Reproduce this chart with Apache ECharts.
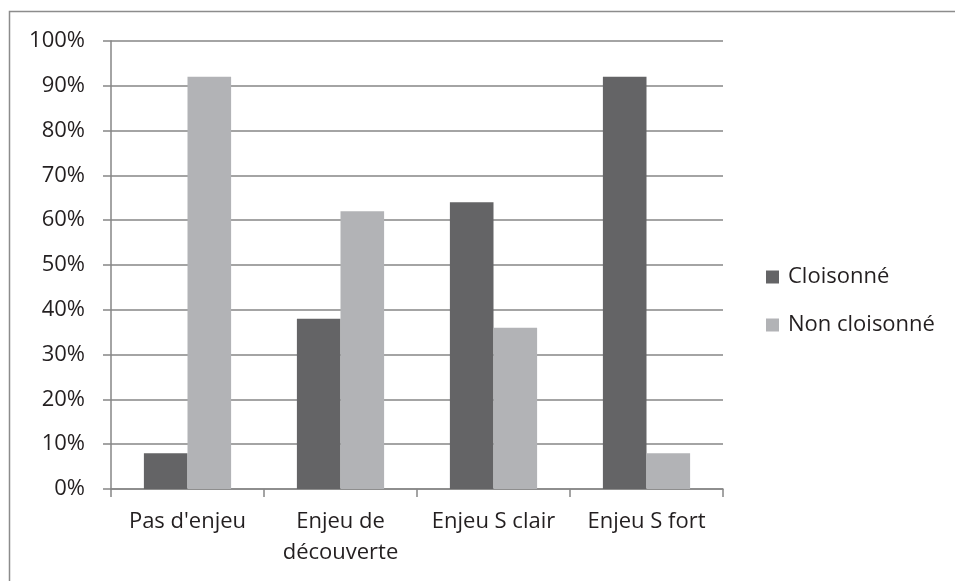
<!DOCTYPE html>
<html>
<head>
<meta charset="utf-8">
<script src="https://cdn.jsdelivr.net/npm/echarts@6/dist/echarts.min.js"></script>
<style>
  html, body { margin: 0; padding: 0; background: #fff; }
  #chart { width: 955px; height: 581px; }
</style>
</head>
<body>
<div id="chart"></div>
<script>
// Categories and shares (percent) per series
const categories = ["Pas d'enjeu", "Enjeu de\ndécouverte", "Enjeu S clair", "Enjeu S fort"];
const cloisonne = [8, 38, 64, 92];
const nonCloisonne = [92, 62, 36, 8];
const seriesNames = ["Cloisonné", "Non cloisonné"];

const FONT = "Open Sans";
const FS = 22;
const TEXT = '#231f20';
const LINE = '#868686';
const chart = echarts.init(document.getElementById('chart'), null, { renderer: 'canvas' });

chart.setOption({
  animation: false,
  backgroundColor: '#ffffff',
  textStyle: { fontFamily: FONT },
  graphic: [{
    type: 'rect',
    shape: { x: 9.5, y: 11.5, width: 980, height: 600 },
    style: { fill: 'none', stroke: '#8c8c8c', lineWidth: 1.5 },
    silent: true
  }],
  grid: { left: 111, top: 41, width: 612, height: 448, containLabel: false },
  legend: {
    orient: 'vertical',
    left: 761,
    top: 260,
    padding: 5,
    itemWidth: 13,
    itemHeight: 13,
    itemGap: 24,
    icon: 'rect',
    textStyle: { fontFamily: FONT, fontSize: FS, lineHeight: 24, color: TEXT, padding: [0, 0, 0, 4] },
    data: seriesNames
  },
  xAxis: {
    type: 'category',
    data: categories,
    axisLine: { lineStyle: { color: LINE, width: 1.5 } },
    axisTick: { show: true, length: 8, lineStyle: { color: LINE, width: 1.5 } },
    axisLabel: { fontFamily: FONT, fontSize: FS, color: TEXT, margin: 17, lineHeight: 31, interval: 0 }
  },
  yAxis: {
    type: 'value',
    min: 0,
    max: 100,
    interval: 10,
    axisLine: { show: true, lineStyle: { color: LINE, width: 1.5 } },
    axisTick: { show: true, length: 8, lineStyle: { color: LINE, width: 1.5 } },
    splitLine: { lineStyle: { color: LINE, width: 1.5 } },
    axisLabel: { fontFamily: FONT, fontSize: FS, color: TEXT, margin: 26, formatter: '{value}%' }
  },
  series: [
    {
      name: seriesNames[0], type: 'bar', data: cloisonne,
      barGap: '0%', barCategoryGap: '43%',
      itemStyle: { color: '#646466' }
    },
    {
      name: seriesNames[1], type: 'bar', data: nonCloisonne,
      barGap: '0%', barCategoryGap: '43%',
      itemStyle: { color: '#b2b3b6' }
    }
  ]
});
</script>
</body>
</html>
